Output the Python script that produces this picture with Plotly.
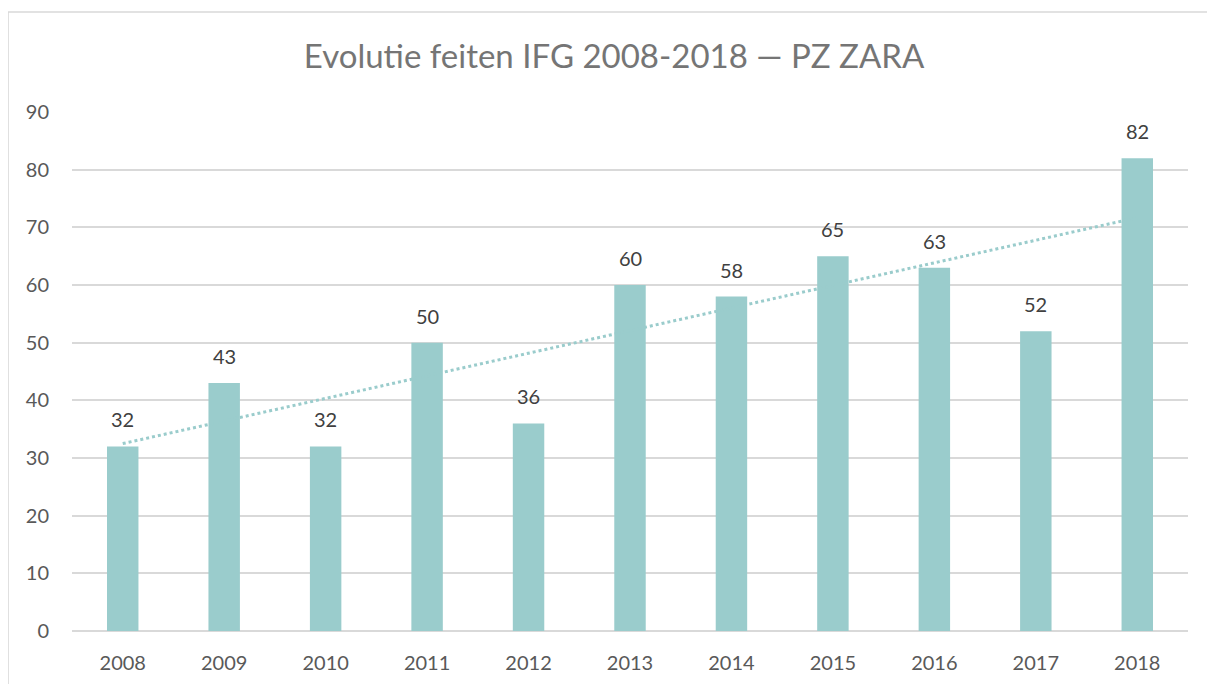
import numpy as np
import plotly.graph_objects as go

years = ["2008", "2009", "2010", "2011", "2012", "2013", "2014", "2015", "2016", "2017", "2018"]
values = [32, 43, 32, 50, 36, 60, 58, 65, 63, 52, 82]
title = "Evolutie feiten IFG 2008-2018 — PZ ZARA"
bar_color = "#9ACCCC"
FONT = "Lato, Open Sans, sans-serif"

xi = np.arange(len(values))
slope, intercept = np.polyfit(xi, values, 1)
trend = slope * xi + intercept

fig = go.Figure()
fig.add_trace(go.Bar(x=years, y=values, marker=dict(color=bar_color, line=dict(width=0)),
                     showlegend=False, hoverinfo="x+y"))
fig.add_trace(go.Scatter(x=years, y=trend, mode="lines",
                         line=dict(color=bar_color, width=3, dash="dot"),
                         showlegend=False, hoverinfo="skip"))

for i, v in enumerate(values):
    fig.add_annotation(x=i, y=v, xref="x", yref="y", text=str(v), showarrow=False,
                       yanchor="bottom", yshift=13,
                       font=dict(family=FONT, size=20, color="#404040"))

# chart border (top and left visible in reference)
fig.add_shape(type="rect", xref="paper", yref="paper", x0=-0.0573, x1=1.03, y0=-0.2, y1=1.1927,
              line=dict(color="#D9D9D9", width=1.5), fillcolor="rgba(0,0,0,0)", layer="below")

fig.update_layout(
    width=1207, height=676,
    margin=dict(l=64, r=27, t=104, b=53, autoexpand=False),
    paper_bgcolor="white", plot_bgcolor="white",
    title=dict(text=title, x=0.4857, xanchor="center", xref="paper", y=1 - 48 / 676, yanchor="middle",
               font=dict(family=FONT, size=33, color="#757575")),
    bargap=0.69,
    font=dict(family=FONT, size=20, color="#595959"),
    xaxis=dict(type="category", range=[-0.5, 10.5], showgrid=False, showline=False, ticks="",
               automargin=False,
               tickfont=dict(size=20, color="#595959"), ticklabelstandoff=18),
    yaxis=dict(range=[0, 90], dtick=10, showgrid=True, gridcolor="#D9D9D9", gridwidth=1.5,
               zeroline=True, zerolinecolor="#D9D9D9", zerolinewidth=1.5, showline=False,
               automargin=False,
               ticks="", tickfont=dict(size=20, color="#595959"), ticklabelstandoff=22),
)

fig.write_html("out.html")
